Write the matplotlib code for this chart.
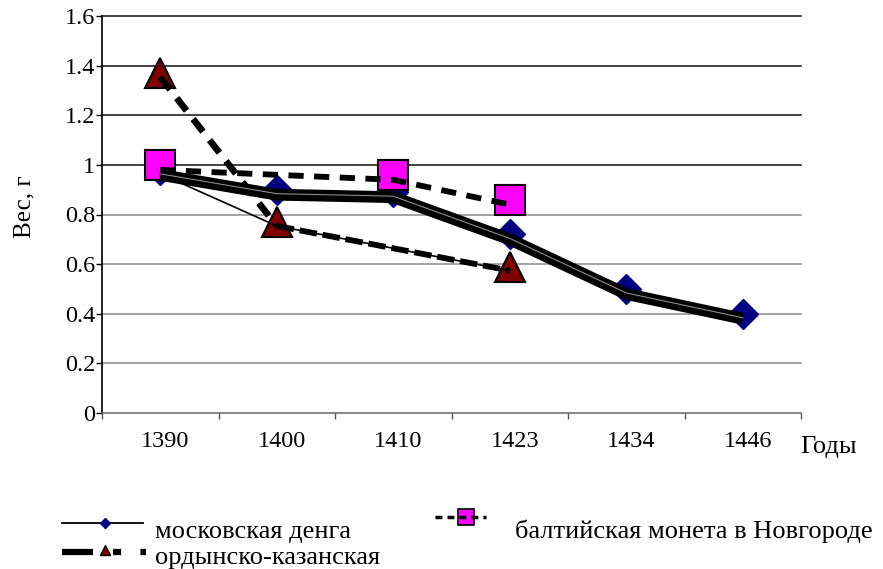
import numpy as np
import matplotlib.pyplot as plt
from matplotlib.lines import Line2D
from matplotlib.transforms import offset_copy, ScaledTranslation

plt.rcParams['font.family'] = ['Liberation Serif', 'DejaVu Serif']

years = ['1390', '1400', '1410', '1423', '1434', '1446']
moscow = [0.98, 0.90, 0.89, 0.72, 0.50, 0.40]          # московская денга
ordyn = [1.37, 0.77, np.nan, 0.59, np.nan, np.nan]     # ордынско-казанская
baltic = [1.00, np.nan, 0.96, 0.86, np.nan, np.nan]    # балтийская монета
yticks = [0, 0.2, 0.4, 0.6, 0.8, 1.0, 1.2, 1.4, 1.6]

W, H = 883, 569
x = np.arange(len(years))

fig = plt.figure(figsize=(W / 100, H / 100), dpi=100)
ax = fig.add_axes([102 / W, 1 - 413 / H, 699 / W, 397 / H])


def shifted(dy):
    return offset_copy(ax.transData, fig=fig, x=0, y=dy, units='dots')


def fx(p):
    return p / W


def fy(p):
    return 1 - p / H


# horizontal grid
for v in yticks[1:]:
    ax.axhline(v, color='#111111' if v >= 1.0 else '#8a8a8a', lw=1.1,
               zorder=1, clip_on=False)

# markers
ax.plot(x, moscow, ls='none', marker='D', ms=15, mfc='#000080',
        mec='#000080', zorder=3)
ax.plot(x, ordyn, ls='none', marker='^', ms=22, mfc='#800000',
        mec='black', mew=1.5, zorder=3)
ax.plot(x, baltic, ls='none', marker='s', ms=21, mfc='#ff00ff',
        mec='black', mew=1.5, zorder=3)

# lines (drawn over the markers)
ax.plot(x, moscow, color='black', lw=8.5, solid_capstyle='butt',
        solid_joinstyle='round', transform=shifted(-5), zorder=4)
ax.plot(x, moscow, color='#8c8c8c', lw=0.8, transform=shifted(-4), zorder=5)

ox = [i for i in range(len(ordyn)) if not np.isnan(ordyn[i])]
oy = [ordyn[i] for i in ox]
ax.plot([0] + ox[1:], [moscow[0]] + oy[1:], color='black', lw=1.2,
        transform=shifted(-4), zorder=4)
ax.plot(ox[:2], oy[:2], color='black', lw=4.8, dashes=(2.4, 1.6),
        transform=shifted(-4), zorder=4)
ax.plot(ox[1:], oy[1:], color='black', lw=4.2, dashes=(3, 1),
        transform=shifted(-4), zorder=4)

bx = [i for i in range(len(baltic)) if not np.isnan(baltic[i])]
by = [baltic[i] for i in bx]
ax.plot(bx, by, color='black', lw=4.2, dashes=(2.6, 1.8),
        transform=shifted(-5), zorder=4)

# axes
ax.set_ylim(0, 1.6)
ax.set_xlim(-0.5, 5.5)
ax.set_yticks(yticks, [f'{v:g}' for v in yticks])
ax.set_xticks(x, years)
ax.set_xticks(np.arange(-0.5, 6, 1), minor=True)
ax.tick_params(axis='x', which='major', length=0, pad=13, labelsize=17.5)
ax.tick_params(axis='x', which='minor', length=4, width=1, color='#555555')
ax.tick_params(axis='y', length=4, width=1, pad=1, labelsize=17.5)
nudge = ScaledTranslation(5 / 100, 0, fig.dpi_scale_trans)
for lab in ax.get_xticklabels():
    lab.set_transform(lab.get_transform() + nudge)
for s in ('top', 'right'):
    ax.spines[s].set_visible(False)
ax.spines['left'].set_linewidth(1.2)
ax.spines['bottom'].set_color('#666666')
ax.spines['bottom'].set_linewidth(1.1)

fig.text(fx(24), fy(207), 'Вес, г', rotation=90, ha='center', va='center',
         fontsize=18)
fig.text(fx(800), fy(453), 'Годы', fontsize=19, va='baseline')

# legend
fig.add_artist(Line2D([fx(62), fx(143)], [fy(523)] * 2, color='black', lw=1.3))
fig.add_artist(Line2D([fx(105)], [fy(523)], ls='none', marker='D', ms=5,
                      mfc='#000080', mec='#000080'))
fig.text(fx(155), fy(538), 'московская денга', fontsize=19, va='baseline')

fig.add_artist(Line2D([fx(62), fx(93)], [fy(552)] * 2, color='black', lw=4.5,
                      solid_capstyle='butt'))
fig.add_artist(Line2D([fx(113), fx(146)], [fy(552)] * 2, color='black', lw=4.5,
                      dashes=(1.3, 3.1)))
fig.add_artist(Line2D([fx(105)], [fy(550)], ls='none', marker='^', ms=7,
                      mfc='#800000', mec='black', mew=1))
fig.text(fx(155), fy(564), 'ордынско-казанская', fontsize=19, va='baseline')

fig.add_artist(Line2D([fx(466)], [fy(517)], ls='none', marker='s', ms=12,
                      mfc='#ff00ff', mec='black', mew=1.2))
fig.add_artist(Line2D([fx(435), fx(486)], [fy(517)] * 2, color='black', lw=2.5,
                      dashes=(2, 1.45)))
fig.text(fx(515), fy(538), 'балтийская монета в Новгороде', fontsize=19,
         va='baseline')

fig.savefig('out.png', dpi=100)
